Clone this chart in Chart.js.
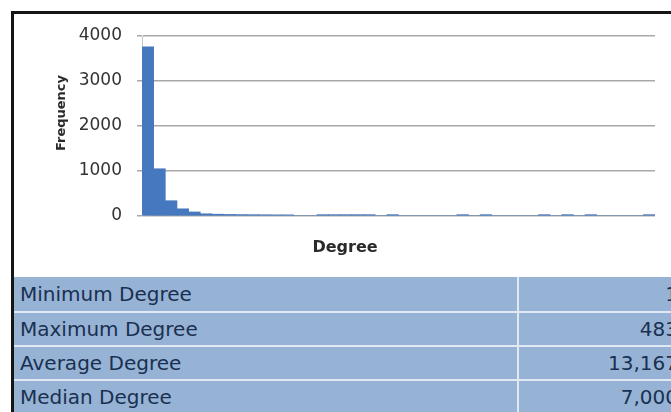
<!DOCTYPE html>
<html>
<head>
<meta charset="utf-8">
<script src="https://cdn.jsdelivr.net/npm/chart.js@4"></script>
<style>
  html, body { margin:0; padding:0; background:#fff; width:671px; height:412px; overflow:hidden; }
  #wrap { position:relative; width:671px; height:412px; overflow:hidden; }
  canvas { position:absolute; left:0; top:0; }
  .bl { position:absolute; left:11px; top:11px; width:3px; height:401px; background:#151515; }
  .bt { position:absolute; left:11px; top:11px; width:660px; height:3px; background:#151515; }
  .row { position:absolute; left:14px; width:670px; background:#96b3d6; font-family:"DejaVu Sans", sans-serif; font-size:20px; color:#1a3050; }
  .sep { position:absolute; left:14px; width:660px; height:2px; background:#dfe8f3; }
  .vd { position:absolute; left:517px; top:277px; width:2px; height:135px; background:#dfe8f3; }
  .lab { position:absolute; left:6px; top:0; }
  .val { position:absolute; top:0; text-align:right; }
</style>
</head>
<body>
<div id="wrap">
  <canvas id="c" width="671" height="277"></canvas>
  <div id="table"></div>
  <div class="bl"></div>
  <div class="bt"></div>
</div>
<script>
// ---- data ----
const binLabels = ["11","22","33","44","55","66","77","88","99","110","121","132","143","154","165","176","187","198","209","220","231","242","253","264","275","286","297","308","319","330","341","352","363","374","385","396","407","418","429","440","451","462","473","484"];
const frequencies = [3760,1050,340,160,90,50,40,35,32,30,28,26,26,0,0,30,30,30,30,30,0,30,0,0,0,0,0,30,0,30,0,0,0,0,30,0,30,0,30,0,0,0,0,30];
const yTicks = [0,1000,2000,3000,4000];
const xTitle = "Degree";
const yTitle = "Frequency";
const statLabels = ["Minimum Degree","Maximum Degree","Average Degree","Median Degree"];
const statValues = ["1","483","13,167","7,000"];

// ---- table ----
const rowTops = [277, 313, 347, 381];
const rowHeights = [34, 32, 32, 33];
const tbl = document.getElementById('table');
let html = '';
statLabels.forEach((l, i) => {
  html += `<div class="row" style="top:${rowTops[i]}px;height:${rowHeights[i]}px;line-height:${rowHeights[i]}px">` +
          `<span class="lab">${l}</span><span class="val" style="right:6px">${statValues[i]}</span></div>`;
  if (i > 0) html += `<div class="sep" style="top:${rowTops[i]-2}px"></div>`;
});
html += '<div class="vd"></div>';
tbl.innerHTML = html;

// ---- chart ----
const titles = {
  id: 'titles',
  afterDraw(chart) {
    const ctx = chart.ctx;
    ctx.save();
    ctx.fillStyle = '#2a2a2a';
    ctx.textAlign = 'center';
    ctx.textBaseline = 'middle';
    ctx.font = 'bold 16px "DejaVu Sans"';
    ctx.fillText(xTitle, 345, 248);
    ctx.translate(62, 113);
    ctx.rotate(-Math.PI / 2);
    ctx.font = 'bold 13px "DejaVu Sans"';
    ctx.fillText(yTitle, 0, 0);
    ctx.restore();
  }
};

new Chart(document.getElementById('c'), {
  type: 'bar',
  data: {
    labels: binLabels,
    datasets: [{
      data: frequencies,
      backgroundColor: '#4678c0',
      borderWidth: 0,
      barPercentage: 1.0,
      categoryPercentage: 1.0
    }]
  },
  options: {
    responsive: false,
    animation: false,
    devicePixelRatio: 1,
    layout: { padding: { top: 36, left: 0, right: 16, bottom: 0 } },
    plugins: { legend: { display: false }, tooltip: { enabled: false } },
    scales: {
      x: {
        ticks: { display: false },
        grid: { display: false },
        border: { display: false },
        afterFit(s) { s.height = 61; }
      },
      y: {
        min: 0, max: 4000,
        afterBuildTicks(s) { s.ticks = yTicks.map(v => ({ value: v })); },
        ticks: {
          padding: 15,
          color: '#333',
          font: { family: 'DejaVu Sans', size: 17 },
          callback: v => String(v)
        },
        grid: { color: '#a8a8a8', lineWidth: 1.5, tickLength: 5, drawTicks: true },
        border: { display: true, color: '#c8c8c8', width: 1 },
        afterFit(s) { s.width = 142; }
      }
    }
  },
  plugins: [titles]
});
</script>
</body>
</html>
